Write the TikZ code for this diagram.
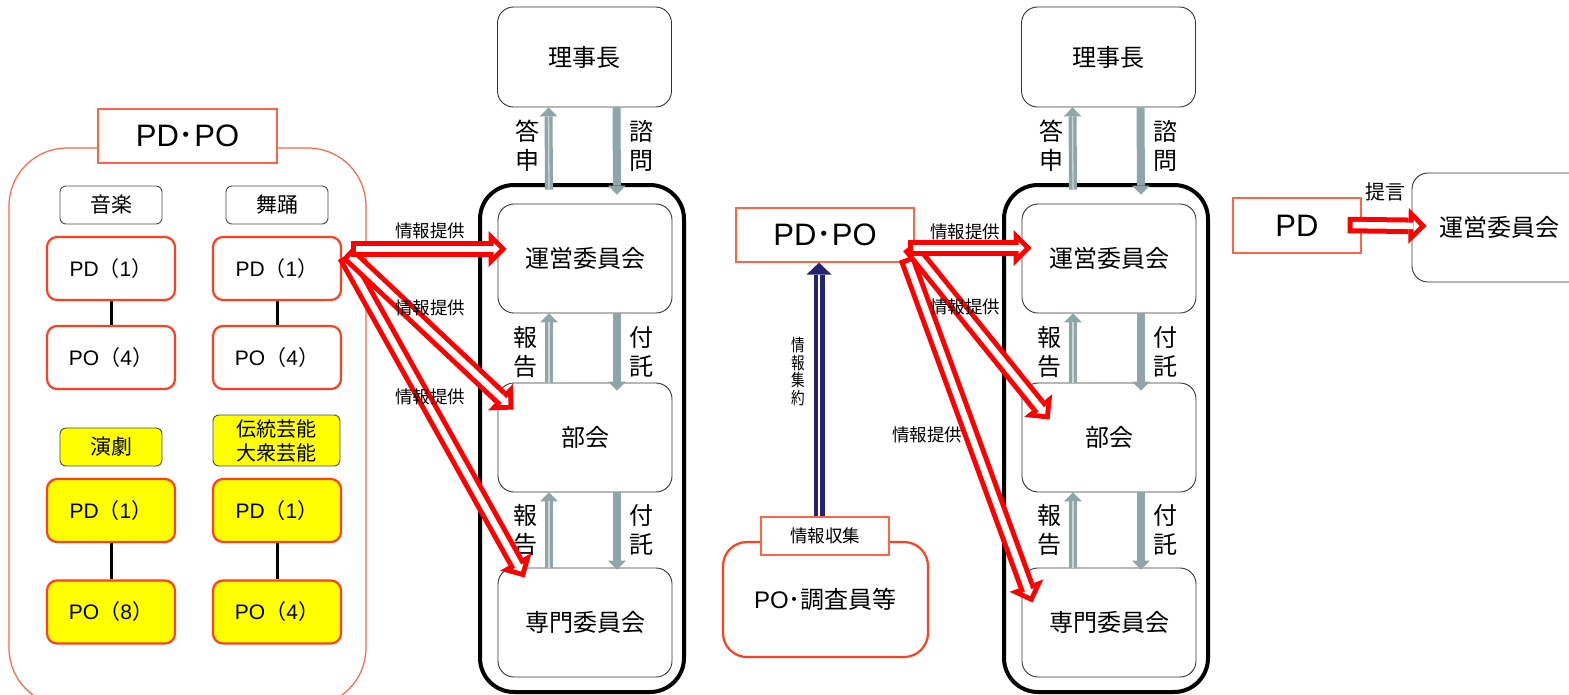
\documentclass[tikz,border=0pt]{standalone}
\usepackage{fontspec}
\setmainfont{Noto Sans CJK JP}
\newfontfamily\lat{Liberation Sans}
\usetikzlibrary{arrows.meta}

\definecolor{pdred}{RGB}{255,64,32}
\definecolor{thinred}{RGB}{255,100,70}
\definecolor{signgray}{RGB}{143,165,168}
\definecolor{navyline}{RGB}{36,36,112}
\definecolor{markyellow}{RGB}{255,255,0}

\newcommand{\pdcount}[2]{{\lat #1}（{\lat #2}）}

\tikzset{
  pdbox/.style={draw=pdred, line width=2.2pt, rounded corners=10pt, fill=white,
    minimum width=128pt, minimum height=63pt, font=\fontsize{21}{24}\selectfont},
  pdyellow/.style={pdbox, fill=markyellow},
  genrebox/.style={draw=black!70, line width=0.9pt, rounded corners=6pt, fill=white,
    minimum width=102pt, minimum height=38pt, font=\fontsize{21}{24}\selectfont},
  titlebox/.style={draw=thinred, line width=1.2pt, fill=white, font=\fontsize{31}{32}\selectfont},
  boardbox/.style={draw=black!80, line width=0.9pt, rounded corners=16pt, fill=white,
    minimum width=174pt, minimum height=109pt, font=\fontsize{24}{28}\selectfont},
  councilframe/.style={draw=black, line width=4pt, rounded corners=34pt},
  tieline/.style={draw=black, line width=3pt},
  sidelabel/.style={inner sep=0pt, align=center, font=\fontsize{24}{29}\selectfont},
  infolabel/.style={inner sep=0pt, font=\fontsize{17.5}{18}\selectfont},
  signup/.style={draw=signgray, line width=8pt, -{Triangle[length=9pt,width=18pt,line width=0pt]},
    postaction={draw=white!55!signgray, line width=1.3pt, -, shorten >=9pt}},
  signdown/.style={draw=signgray, line width=8pt, -{Triangle[length=9pt,width=18pt,line width=0pt]}},
  inforrow/.style={draw=red, line width=16.5pt, -{Triangle[length=18pt,width=36pt,line width=0pt]},
    postaction={draw=white, line width=6.5pt, -{Triangle[length=6pt,width=12pt,line width=0pt]},
      shorten >=7pt, shorten <=5pt}},
  collectarrow/.style={draw=navyline, line width=11pt, -{Triangle[length=12pt,width=25pt,line width=0pt]},
    postaction={draw=white, line width=2.2pt, -, shorten >=12pt}}
}

\begin{document}
\begin{tikzpicture}[x=1pt,y=-1pt]
  \useasboundingbox (0,0) rectangle (1569,694);

  % left group frame
  \draw[draw=thinred, line width=1.2pt, rounded corners=58pt] (9,148) rectangle (366,706);

  % the two council columns
  \foreach \c/\xo in {a/0,b/524}{
    \begin{scope}[xshift=\xo pt]
      \draw[councilframe] (480,185) rectangle (684,692);
      \node[boardbox, minimum height=100pt] (\c-riji) at (584.5,57) {理事長};
      \node[boardbox] (\c-unei) at (585,258.5) {運営委員会};
      \node[boardbox] (\c-bukai) at (585,437.5) {部会};
      \node[boardbox] (\c-senmon) at (585,622.5) {専門委員会};

      \draw[signup] ([xshift=-36pt,yshift=14pt]\c-unei.north) -- ([xshift=-36pt]\c-riji.south);
      \draw[signdown] ([xshift=32pt]\c-riji.south) -- ([xshift=32pt,yshift=9pt]\c-unei.north);
      \draw[signup] ([xshift=-36pt]\c-bukai.north) -- ([xshift=-36pt]\c-unei.south);
      \draw[signdown] ([xshift=32pt]\c-unei.south) -- ([xshift=32pt,yshift=-8pt]\c-bukai.north);
      \draw[signup] ([xshift=-36pt]\c-senmon.north) -- ([xshift=-36pt]\c-bukai.south);
      \draw[signdown] ([xshift=32pt]\c-bukai.south) -- ([xshift=32pt,yshift=-2pt]\c-senmon.north);

      \node[sidelabel] (\c-toshin) at (527,146) {答\\申};
      \node[sidelabel] (\c-shimon) at (641,146) {諮\\問};
      \node[sidelabel] (\c-hokoku1) at (525,352) {報\\告};
      \node[sidelabel] (\c-futaku1) at (641,352) {付\\託};
      \node[sidelabel] (\c-hokoku2) at (525,530) {報\\告};
      \node[sidelabel] (\c-futaku2) at (641,530) {付\\託};
    \end{scope}
  }

  % left group nodes
  \node[titlebox, minimum width=179pt, minimum height=54pt] (lt-title) at (187.5,136) {{\lat PD}･{\lat PO}};
  \node[genrebox] (music) at (111,205) {音楽};
  \node[genrebox] (dance) at (277,205) {舞踊};
  \node[pdbox] (music-pd) at (111,268.5) {\pdcount{PD}{1}};
  \node[pdbox] (music-po) at (111,357.5) {\pdcount{PO}{4}};
  \node[pdbox] (dance-pd) at (277,268.5) {\pdcount{PD}{1}};
  \node[pdbox] (dance-po) at (277,357.5) {\pdcount{PO}{4}};
  \node[genrebox, fill=markyellow] (drama) at (111,447) {演劇};
  \node[genrebox, fill=markyellow, minimum width=127pt, minimum height=51pt, align=center,
    font=\fontsize{20}{24}\selectfont] (trad) at (276.5,440.5) {伝統芸能\\大衆芸能};
  \node[pdyellow] (drama-pd) at (111,510.5) {\pdcount{PD}{1}};
  \node[pdyellow] (drama-po) at (111,612) {\pdcount{PO}{8}};
  \node[pdyellow] (trad-pd) at (277,510.5) {\pdcount{PD}{1}};
  \node[pdyellow] (trad-po) at (277,612) {\pdcount{PO}{4}};
  \draw[tieline] (music-pd) -- (music-po);
  \draw[tieline] (dance-pd) -- (dance-po);
  \draw[tieline] (drama-pd) -- (drama-po);
  \draw[tieline] (trad-pd) -- (trad-po);

  % middle group nodes
  \node[titlebox, minimum width=178pt, minimum height=54pt] (mid-pdpo) at (825,235) {{\lat PD}･{\lat PO}};
  \node[draw=pdred, line width=2.2pt, rounded corners=24pt, fill=white, minimum width=205pt,
    minimum height=115pt, font=\fontsize{24}{28}\selectfont] (survey) at (825.5,599.5) {{\lat PO}･調査員等};
  \node[titlebox, minimum width=128pt, minimum height=38pt,
    font=\fontsize{17.5}{18}\selectfont] (collect) at (825,536) {情報収集};
  \draw[collectarrow] ([xshift=-6pt]collect.north) -- ([xshift=-6pt]mid-pdpo.south);
  \node[inner sep=0pt, align=center, xscale=0.8, font=\fontsize{17}{17.5}\selectfont]
    (shuyaku) at (798,371.5) {情\\報\\集\\約};

  % right group nodes
  \node[titlebox, minimum width=128pt, minimum height=55pt] (rt-pd) at (1297,225.5) {{\lat PD}};
  \node[boardbox] (rt-unei) at (1499,227.5) {運営委員会};
  \draw[inforrow] ([xshift=-14pt,yshift=0.5pt]rt-pd.east) -- ([xshift=15pt,yshift=1.5pt]rt-unei.west);
  \node[infolabel, font=\fontsize{20}{22}\selectfont] (teigen) at (1385,192) {提言};

  % information arrows, left group
  \draw[inforrow] ([xshift=3pt,yshift=12.5pt]dance-pd.east) -- ([xshift=27pt,yshift=-10pt]a-senmon.north west);
  \draw[inforrow] ([xshift=5pt,yshift=15.5pt]dance-pd.east) -- ([xshift=16pt,yshift=-27pt]a-bukai.north west);
  \draw[inforrow] ([xshift=9pt,yshift=19.5pt]dance-pd.east) -- ([xshift=9pt,yshift=9.5pt]a-unei.west);

  % information arrows, middle group
  \draw[inforrow] ([xshift=-8pt,yshift=-23pt]mid-pdpo.east) -- ([xshift=11pt,yshift=-35pt]b-senmon.north west);
  \draw[inforrow] ([xshift=-5pt,yshift=-11pt]mid-pdpo.east) -- ([xshift=28pt,yshift=-37pt]b-bukai.north west);
  \draw[inforrow] ([xshift=-7pt,yshift=-13pt]mid-pdpo.east) -- ([xshift=10pt,yshift=10.5pt]b-unei.west);

  % Text Node
  \node[infolabel] (lt-info1) at (430,231) {情報提供};
  \node[infolabel] (lt-info2) at (430,308) {情報提供};
  \node[infolabel] (lt-info3) at (430,397) {情報提供};
  \node[infolabel] (mid-info1) at (965,232) {情報提供};
  \node[infolabel] (mid-info2) at (965,307) {情報提供};
  \node[infolabel] (mid-info3) at (927,435) {情報提供};
\end{tikzpicture}
\end{document}
